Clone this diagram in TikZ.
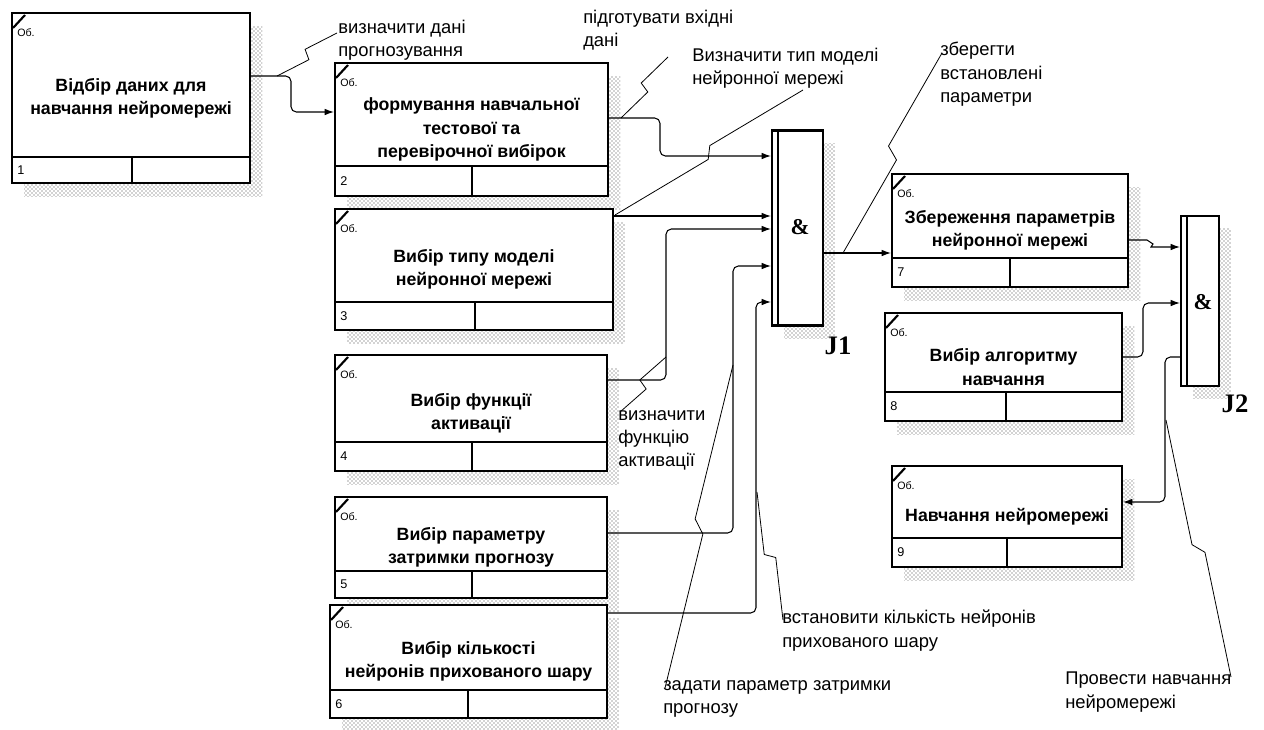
\documentclass[tikz,border=0pt]{standalone}
\usepackage{fontspec}
\setmainfont{Liberation Sans}
\newfontfamily\jfont{Liberation Serif}
\usetikzlibrary{arrows.meta,calc,patterns}

\begin{document}
\begin{tikzpicture}[x=0.75pt, y=-0.75pt, >={Latex[length=7pt,width=5pt]},
  actbox/.style={draw, line width=1.6pt, fill=white, inner sep=0pt, align=center,
    font=\bfseries\fontsize{13.3}{17.5}\selectfont},
  jbox/.style={draw, line width=1.6pt, fill=white, inner sep=0pt},
  shade/.style={pattern=crosshatch dots, pattern color=black!75},
  link/.style={line width=0.8pt, rounded corners=4pt},
  note/.style={anchor=north west, inner sep=0pt, align=left, font=\fontsize{13.8}{17.5}\selectfont},
  squig/.style={line width=0.6pt, to path={
    -- ($(\tikztostart)!.48!(\tikztotarget)!#1!-90:(\tikztotarget)$)
    -- ($(\tikztostart)!.52!(\tikztotarget)!#1!90:(\tikztotarget)$)
    -- (\tikztotarget)}},
  squig/.default=4pt]

  \useasboundingbox (0,0) rectangle (1264,729);

  % activity boxes: name / corners / strip top / divider / number / text
  \foreach \n/\xa/\ya/\xb/\yb/\ys/\xd/\k/\t in {
    b1/12/13/250/183/157/132/1/{Відбір даних для\\навчання нейромережі},
    b2/335/63/608/196/166/472/2/{формування навчальної\\тестової та\\перевірочної вибірок},
    b3/335/209/613/330/302/475/3/{Вибір типу моделі\\нейронної мережі},
    b4/335/355/607/471/442/472/4/{Вибір функції\\активації},
    b5/335/497/607/598/571/472/5/{Вибір параметру\\затримки прогнозу},
    b6/330/605/607/718/690/468/6/{Вибір кількості\\нейронів прихованого шару},
    b7/892/174/1128/287/258/1010/7/{Збереження параметрів\\нейронної мережі},
    b8/885/313/1122/421/392/1006/8/{Вибір алгоритму\\навчання},
    b9/892/466/1122/567/538/1007/9/{Навчання нейромережі}} {
    \pgfmathsetmacro\w{(\xb-\xa)*0.75}
    \pgfmathsetmacro\h{(\yb-\ya)*0.75}
    \fill[shade] (\xa+12,\ya+13) rectangle (\xb+12,\yb+13);
    \node[actbox, minimum width=\w pt, minimum height=\h pt] (\n)
      at ({(\xa+\xb)/2},{(\ya+\yb)/2}) {\t};
    \draw[line width=1.6pt] (\xa,\ys) -- (\xb,\ys) (\xd,\ys) -- (\xd,\yb);
    \draw[line width=1.6pt] (\xa+1,\ya+15) -- (\xa+13,\ya+2);
    \node[anchor=north west, inner sep=0pt, font=\fontsize{8}{8}\selectfont] at (\xa+5,\ya+15) {Об.};
    \node[anchor=west, inner sep=0pt, font=\fontsize{9.5}{10}\selectfont] at (\xa+5,{(\ys+\yb)/2}) {\k};
  }

  % junctions
  \fill[shade] (784,143) rectangle (835,338);
  \node[jbox, minimum width=38.25pt, minimum height=146.25pt] (j1) at (797.5,228) {};
  \draw[line width=1.6pt] (778,131) -- (778,325);
  \node[font=\jfont\bfseries\fontsize{17}{17}\selectfont] at (800,227) {\&};
  \node[font=\jfont\bfseries\fontsize{20}{20}\selectfont] (j1lab) at (838,346) {J1};

  \fill[shade] (1193,228) rectangle (1231,398);
  \node[jbox, minimum width=28.5pt, minimum height=127.5pt] (j2) at (1200,301) {};
  \draw[line width=1.6pt] (1187,216) -- (1187,386);
  \node[font=\jfont\bfseries\fontsize{17}{17}\selectfont] at (1203,302) {\&};
  \node[font=\jfont\bfseries\fontsize{20}{20}\selectfont] (j2lab) at (1235,404) {J2};

  % links
  \draw[link,->] (b1.east |- 0,76) -- (291,76) -- (291,112) -- (b2.west |- 0,112);
  \draw[link,->] (b2.east |- 0,118) -- (660,118) -- (660,156) -- (j1.west |- 0,156);
  \draw[link,->] (b3.east |- 0,216) -- (j1.west |- 0,216);
  \draw[link,->] (b4.east |- 0,380) -- (666,380) -- (666,229) -- (j1.west |- 0,229);
  \draw[link,->] (b5.east |- 0,533) -- (733,533) -- (733,266) -- (j1.west |- 0,266);
  \draw[link,->] (b6.east |- 0,613) -- (756,613) -- (756,302) -- (j1.west |- 0,302);
  \draw[link,->] (j1.east |- 0,253) -- (b7.west |- 0,253);
  \draw[line width=0.8pt,->] (b7.east |- 0,240) -- (1147,240) -- (1153,244) -- (1151,247)
    -- (1160,247) -- (j2.west |- 0,247);
  \draw[link,->] (b8.east |- 0,357) -- (1143,357) -- (1143,303) -- (j2.west |- 0,303);
  \draw[link,->] (j2.west |- 0,357) -- (1165,357) -- (1165,502) -- (b9.east |- 0,502);

  % labels
  \node[note] (l1) at (338,20) {визначити дані\\прогнозування};
  \node[note] (l2) at (583,10) {підготувати вхідні\\дані};
  \node[note] (l3) at (692,48) {Визначити тип моделі\\нейронної мережі};
  \node[note] (l4) at (940,42) {зберегти\\встановлені\\параметри};
  \node[note] (l5) at (618,410) {визначити\\функцію\\активації};
  \node[note] (l6) at (663,680) {задати параметр затримки\\прогнозу};
  \node[note] (l7) at (782,610) {встановити кількість нейронів\\прихованого шару};
  \node[note] (l8) at (1065,672) {Провести навчання\\нейромережі};

  % squiggles from the links to their labels
  \coordinate (s1) at (277,76);
  \coordinate (s2) at (621,118);
  \coordinate (s3) at (615,215);
  \coordinate (s4) at (843,253);
  \coordinate (s5) at (666,357);
  \coordinate (s6) at (733,365);
  \coordinate (s7) at (757,492);
  \coordinate (s8) at (1166,420);
  \draw[squig] (s1) to ($(l1.north west)+(-1,13)$);
  \draw[squig] (s2) to ($(l2.north west)+(85,47)$);
  \draw[squig] (s3) to ($(l3.north west)+(111,42)$);
  \draw[squig=5pt] (s4) to ($(l4.north west)+(2,11)$);
  \draw[squig] (s5) to ($(l5.north west)+(2,2)$);
  \draw[squig] (s6) to ($(l6.north west)+(2,8)$);
  \draw[squig] (s7) to ($(l7.north west)+(1,10)$);
  \draw[squig] (s8) to ($(l8.north west)+(166,5)$);

\end{tikzpicture}
\end{document}
